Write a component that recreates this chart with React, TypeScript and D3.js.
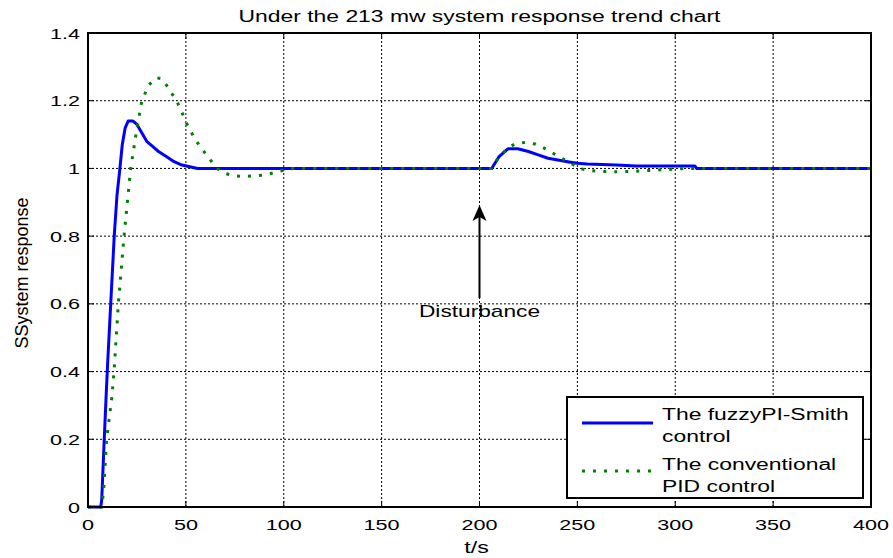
import React from "react";
import * as d3 from "d3";

const titleText = "Under the 213 mw system response trend chart";
const xLabel = "t/s";
const yLabel = "SSystem response";
const xTicks = [0, 50, 100, 150, 200, 250, 300, 350, 400];
const yTicks = [0, 0.2, 0.4, 0.6, 0.8, 1, 1.2, 1.4];
const legendLabels = [["The fuzzyPI-Smith", "control"], ["The conventional", "PID control"]];
const annotationText = "Disturbance";
const annotationT = 200;
const annotationFrom = 0.617;
const annotationTo = 0.892;
const annotationTextV = 0.561;

const fuzzyT = [0, 6.5, 7, 8.3, 9.2, 10, 11.6, 13.4, 14.8, 16.3, 17.5, 19, 20.5, 23, 25, 27, 30, 33, 36, 40, 44, 48, 52, 56, 205, 206.2, 210, 214.5, 219.5, 225, 230, 235, 240, 245, 250, 255, 270, 280, 310, 311, 400];
const fuzzyV = [0, 0, 0.02, 0.2, 0.32, 0.42, 0.6, 0.8, 0.92, 1.0, 1.07, 1.12, 1.14, 1.14, 1.13, 1.11, 1.08, 1.065, 1.05, 1.035, 1.02, 1.01, 1.005, 1.0, 1.0, 1.0, 1.035, 1.058, 1.058, 1.05, 1.04, 1.03, 1.025, 1.02, 1.015, 1.013, 1.01, 1.007, 1.007, 1.0, 1.0];

const pidT = [0, 7, 8, 9.5, 12.1, 13.3, 15.5, 18.4, 21.8, 24.5, 27.4, 30.8, 35, 37.5, 40.2, 42.7, 45.3, 48, 50.4, 54.7, 59.8, 62.8, 65.7, 69.6, 75, 80, 85, 90.4, 95.5, 100, 105, 205, 206.2, 210, 214.5, 218, 223.3, 228.4, 233, 236.9, 241, 246, 251, 256, 262, 269, 280, 290, 300, 306, 400];
const pidV = [0, 0, 0.05, 0.2, 0.32, 0.4, 0.6, 0.8, 1.0, 1.1, 1.197, 1.245, 1.268, 1.265, 1.245, 1.222, 1.2, 1.165, 1.133, 1.086, 1.045, 1.023, 1.0, 0.986, 0.978, 0.976, 0.978, 0.981, 0.988, 0.995, 1.0, 1.0, 1.0, 1.035, 1.06, 1.072, 1.077, 1.072, 1.06, 1.047, 1.033, 1.018, 1.0, 0.994, 0.991, 0.99, 0.992, 0.995, 0.998, 1.0, 1.0];

const W = 893, H = 558;
const L = 88, R = 871, T = 33, B = 507;
const FONT = "'Liberation Sans', Arial, Helvetica, sans-serif";
const SX = 1.44;

function fmt(v: number) {
  return String(Math.round(v * 10) / 10);
}

export default function App() {
  const x = d3.scaleLinear().domain([0, 400]).range([L, R]);
  const y = d3.scaleLinear().domain([0, 1.4]).range([B, T]);
  const line = d3.line<[number, number]>().x(d => x(d[0])).y(d => y(d[1]));
  const fuzzyPts: [number, number][] = fuzzyT.map((t, i) => [t, fuzzyV[i]]);
  const pidPts: [number, number][] = pidT.map((t, i) => [t, pidV[i]]);

  const ax = x(annotationT);
  const ay0 = y(annotationFrom);
  const ay1 = y(annotationTo);

  const legX = 567, legY = 397, legW = 296, legH = 101;

  return (
    <svg width={W} height={H} style={{ position: "absolute", left: 0, top: 0, background: "#fff" }}>
      <rect x={0} y={0} width={W} height={H} fill="#fff" />
      {/* grid */}
      {xTicks.slice(1, -1).map(t => (
        <line key={"gx" + t} x1={x(t)} x2={x(t)} y1={T} y2={B} stroke="#000" strokeWidth={1} strokeDasharray="2,2" />
      ))}
      {yTicks.slice(1, -1).map(v => (
        <line key={"gy" + v} x1={L} x2={R} y1={y(v)} y2={y(v)} stroke="#000" strokeWidth={1} strokeDasharray="2,2" />
      ))}
      {/* ticks */}
      {xTicks.map(t => (
        <g key={"tx" + t}>
          <line x1={x(t)} x2={x(t)} y1={B} y2={B - 6} stroke="#000" strokeWidth={1} />
          <line x1={x(t)} x2={x(t)} y1={T} y2={T + 6} stroke="#000" strokeWidth={1} />
          <text transform={`translate(${x(t)},${B + 23}) scale(${SX},1)`} textAnchor="middle" fontFamily={FONT} fontSize={15} fill="#000">{fmt(t)}</text>
        </g>
      ))}
      {yTicks.map(v => (
        <g key={"ty" + v}>
          <line x1={L} x2={L + 6} y1={y(v)} y2={y(v)} stroke="#000" strokeWidth={1} />
          <line x1={R} x2={R - 6} y1={y(v)} y2={y(v)} stroke="#000" strokeWidth={1} />
          <text transform={`translate(${L - 8},${y(v) + 5.5}) scale(${SX},1)`} textAnchor="end" fontFamily={FONT} fontSize={15} fill="#000">{fmt(v)}</text>
        </g>
      ))}
      {/* series */}
      <path d={line(fuzzyPts) || ""} fill="none" stroke="#0000ff" strokeWidth={3} strokeLinejoin="round" />
      <path d={line(pidPts) || ""} fill="none" stroke="#008000" strokeWidth={3} strokeDasharray="3,8" />
      {/* axes box */}
      <rect x={L} y={T} width={R - L} height={B - T} fill="none" stroke="#000" strokeWidth={2} />
      {/* annotation */}
      <line x1={ax} x2={ax} y1={ay0} y2={ay1 + 10} stroke="#000" strokeWidth={2} />
      <path d={`M${ax},${ay1} L${ax - 7},${ay1 + 16} L${ax},${ay1 + 12} L${ax + 7},${ay1 + 16} Z`} fill="#000" />
      <text transform={`translate(${ax},${y(annotationTextV)}) scale(1.42,1)`} textAnchor="middle" fontFamily={FONT} fontSize={16} fill="#000">{annotationText}</text>
      {/* title and labels */}
      <text transform={`translate(${(L + R) / 2},22) scale(1.43,1)`} textAnchor="middle" fontFamily={FONT} fontSize={16} fill="#000">{titleText}</text>
      <text transform={`translate(${(L + R) / 2 - 3},553) scale(1.45,1)`} textAnchor="middle" fontFamily={FONT} fontSize={16} fill="#000">{xLabel}</text>
      <text transform={`translate(28,273) rotate(-90)`} textAnchor="middle" fontFamily={FONT} fontSize={18} fill="#000">{yLabel}</text>
      {/* legend */}
      <rect x={legX} y={legY} width={legW} height={legH} fill="#fff" stroke="#000" strokeWidth={2} />
      <line x1={582} x2={653} y1={423} y2={423} stroke="#0000ff" strokeWidth={3} />
      <line x1={582} x2={653} y1={471} y2={471} stroke="#008000" strokeWidth={3} strokeDasharray="3,8" />
      {legendLabels.map((lines, i) => (
        <g key={"leg" + i}>
          {lines.map((s, j) => (
            <text key={j} transform={`translate(662,${420 + i * 49.5 + j * 22}) scale(1.43,1)`} fontFamily={FONT} fontSize={16} fill="#000">{s}</text>
          ))}
        </g>
      ))}
    </svg>
  );
}
